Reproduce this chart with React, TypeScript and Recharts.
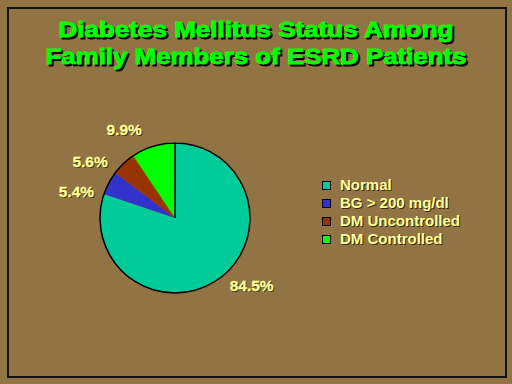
import React from "react";
import { PieChart, Pie, Cell, Legend } from "recharts";

const categories = ["Normal", "BG > 200 mg/dl", "DM Uncontrolled", "DM Controlled"];
const values = [84.5, 5.4, 5.6, 9.9];
const labels = ["84.5%", "5.4%", "5.6%", "9.9%"];
const colors = ["#00CC99", "#3333CC", "#993300", "#00FF00"];
const titleLines = ["Diabetes Mellitus Status Among", "Family Members of ESRD Patients"];

const data = categories.map((name, i) => ({ name, value: values[i], label: labels[i] }));
const outline = [{ name: "outline", value: 1 }];

const BG = "#927444";
const TXT = "#FFFF99";
const FONT = "'Liberation Sans', Arial, sans-serif";
const RAD = Math.PI / 180;

const renderLabel = (props: any) => {
  const { cx, cy, midAngle, outerRadius, index } = props;
  const ang = (midAngle + 13) * RAD;
  const r = outerRadius + 27;
  const x = cx + r * Math.cos(ang);
  const y = cy - r * Math.sin(ang);
  const t = labels[index];
  return (
    <g key={"lbl" + index}>
      <text x={x + 1} y={y + 1} textAnchor="middle" dominantBaseline="central" fill="#3a2a10" fontFamily={FONT} fontWeight="bold" fontSize={15.5}>
        {t}
      </text>
      <text x={x} y={y} textAnchor="middle" dominantBaseline="central" fill={TXT} stroke={TXT} strokeWidth={0.3} fontFamily={FONT} fontWeight="bold" fontSize={15.5}>
        {t}
      </text>
    </g>
  );
};

const LegendContent = () => (
  <div style={{ fontFamily: FONT, fontWeight: "bold", fontSize: 15, color: TXT }}>
    {categories.map((c, i) => (
      <div key={c} style={{ display: "flex", alignItems: "center", height: 18, lineHeight: "18px" }}>
        <span style={{ display: "inline-block", width: 7, height: 7, background: colors[i], border: "1px solid #000", marginRight: 9 }} />
        <span style={{ textShadow: "1px 1px 0 #3a2a10", whiteSpace: "nowrap" }}>{c}</span>
      </div>
    ))}
  </div>
);

export default function App() {
  return (
    <div style={{ position: "fixed", left: 0, top: 0, width: 512, height: 384, background: BG, overflow: "hidden" }}>
      <div style={{ position: "absolute", left: 7, top: 7, width: 496, height: 367, border: "2px solid #111" }} />
      <svg width={512} height={384} style={{ position: "absolute", left: 0, top: 0 }}>
        {titleLines.map((line, i) => {
          const y = 37 + i * 27;
          const len = i === 0 ? 395 : 421;
          return (
            <g key={i}>
              <text x={258} y={y + 2} textAnchor="middle" textLength={len} lengthAdjust="spacingAndGlyphs" fill="#000" stroke="#000" strokeWidth={0.9} fontFamily={FONT} fontWeight="bold" fontSize={22}>
                {line}
              </text>
              <text x={256} y={y} textAnchor="middle" textLength={len} lengthAdjust="spacingAndGlyphs" fill="#00FF00" stroke="#00FF00" strokeWidth={0.9} fontFamily={FONT} fontWeight="bold" fontSize={22}>
                {line}
              </text>
            </g>
          );
        })}
      </svg>
      <div style={{ position: "absolute", left: 0, top: 0 }}>
        <PieChart width={512} height={384}>
          <Pie
            data={data}
            dataKey="value"
            nameKey="name"
            cx={170}
            cy={213}
            outerRadius={75}
            startAngle={90}
            endAngle={-270}
            stroke="none"
            label={renderLabel}
            labelLine={false}
            isAnimationActive={false}
          >
            {data.map((d, i) => (
              <Cell key={d.name} fill={colors[i]} stroke="none" />
            ))}
          </Pie>
          <Pie
            data={outline}
            dataKey="value"
            cx={170}
            cy={213}
            outerRadius={75}
            startAngle={90}
            endAngle={-270}
            fill="none"
            stroke="#000"
            strokeWidth={1.5}
            legendType="none"
            isAnimationActive={false}
          />
          <Legend
            layout="vertical"
            content={<LegendContent />}
            wrapperStyle={{ position: "absolute", left: 322, top: 176, width: 180 }}
          />
        </PieChart>
      </div>
    </div>
  );
}
